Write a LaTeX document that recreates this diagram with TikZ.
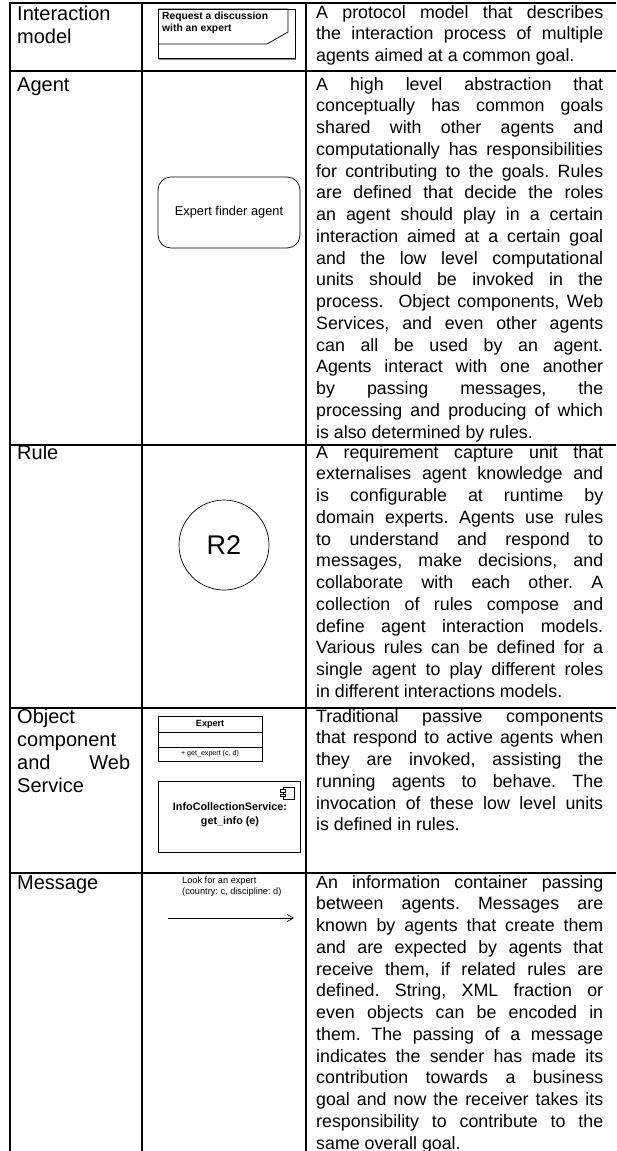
\documentclass[tikz,border=0pt]{standalone}
\usepackage{fontspec}
\setmainfont{Liberation Sans}
\usepackage{tikz}
\usetikzlibrary{arrows.meta}
\hyphenpenalty=10000
\exhyphenpenalty=10000
\tolerance=10000
\frenchspacing

\tikzset{
  rowline/.style={line width=1.8pt},
  rowlabel/.style={anchor=base west, inner sep=0pt, text width=113pt, align=justify,
    font=\fontsize{20}{23}\selectfont},
  desc/.style={anchor=base west, inner sep=0pt, text width=287pt, align=justify,
    font=\fontsize{17.8}{21.75}\selectfont},
  umlbox/.style={draw, line width=0.7pt, inner sep=0pt},
}

\begin{document}
\begin{tikzpicture}[x=1pt,y=-1pt]
\useasboundingbox (0,0) rectangle (616,1151);
\clip (0,0) rectangle (616,1151);

% table
\draw[rowline] (9,3) -- (616,3);
\foreach \y in {71,445,708,873}
  \draw[rowline] (10,\y) -- (616,\y);
\foreach \x in {10,142,306}
  \draw[rowline] (\x,3) -- (\x,1151);

% row 1: interaction model
\node[rowlabel] (lblinter) at (17,20) {Interaction\linebreak model};
\draw[line width=0.7pt] (158,9) rectangle (295,58);
\draw[line width=0.6pt, gray] (159,59.5) -- (296,59.5);
\draw[line width=0.7pt] (158,9) -- (288,9) -- (288,32) -- (267,44) -- (158,44);
\node[anchor=north west, inner sep=0pt, align=left,
  font=\bfseries\fontsize{10.3}{12}\selectfont] (intername) at (162,12)
  {Request a discussion\\with an expert};
\node[desc] (descinter) at (316,18) {A protocol model that describes\linebreak
  the interaction process of multiple\linebreak agents aimed at a common goal.};

% row 2: agent
\node[rowlabel] (lblagent) at (17,91) {Agent};
\node[umlbox, rounded corners=13pt, minimum width=142pt, minimum height=71pt,
  font=\fontsize{12.8}{15}\selectfont] (finder) at (229,212.5) {Expert finder agent};
\node[desc] (descagent) at (316,90) {A high level abstraction that\linebreak
  conceptually has common goals\linebreak shared with other agents and\linebreak
  computationally has responsibilities\linebreak for contributing to the goals. Rules\linebreak
  are defined that decide the roles\linebreak an agent should play in a certain\linebreak
  interaction aimed at a certain goal\linebreak and the low level computational\linebreak
  units should be invoked in the\linebreak process.\ \ Object components, Web\linebreak
  Services, and even other agents\linebreak can all be used by an agent.\linebreak
  Agents interact with one another\linebreak by passing messages, the\linebreak
  processing and producing of which\linebreak is also determined by rules.};

% row 3: rule
\node[rowlabel] (lblrule) at (17,459) {Rule};
\node[umlbox, circle, minimum size=90pt, font=\fontsize{27}{30}\selectfont] (ruletwo)
  at (224,545) {R2};
\node[desc] (descrule) at (316,458) {A requirement capture unit that\linebreak
  externalises agent knowledge and\linebreak is configurable at runtime by\linebreak
  domain experts. Agents use rules\linebreak to understand and respond to\linebreak
  messages, make decisions, and\linebreak collaborate with each other. A\linebreak
  collection of rules compose and\linebreak define agent interaction models.\linebreak
  Various rules can be defined for a\linebreak single agent to play different roles\linebreak
  in different interactions models.};

% row 4: object component and web service
\node[rowlabel] (lblobject) at (17,723) {Object\linebreak component\linebreak and Web\linebreak Service};
\node[umlbox, minimum width=104pt, minimum height=16pt,
  font=\bfseries\fontsize{9}{10}\selectfont] (clsname) at (210,724) {Expert};
\node[umlbox, minimum width=104pt, minimum height=15pt] (clsattr) at (210,739.5) {};
\node[umlbox, minimum width=104pt, minimum height=14pt,
  font=\fontsize{7.1}{8}\selectfont] (clsops) at (210,754) {+ get\_expert (c, d)};
\node[umlbox, minimum width=142pt, minimum height=71pt] (infosvc) at (229,816.5) {};
\draw[line width=0.6pt] (283,787) rectangle (294,799);
\draw[line width=0.6pt, fill=white] (280.5,789.5) rectangle (285.5,792);
\draw[line width=0.6pt, fill=white] (280.5,794) rectangle (285.5,796.5);
\node[align=center, inner sep=0pt, font=\bfseries\fontsize{10.8}{14}\selectfont]
  (svcname) at (230,815) {InfoCollectionService:\\get\_info (e)};
\node[desc] (descobject) at (316,722) {Traditional passive components\linebreak
  that respond to active agents when\linebreak they are invoked, assisting the\linebreak
  running agents to behave. The\linebreak invocation of these low level units\linebreak
  is defined in rules.};

% row 5: message
\node[rowlabel] (lblmessage) at (17,889) {Message};
\node[anchor=north west, inner sep=0pt, align=left,
  font=\fontsize{9.2}{11}\selectfont] (msgtext) at (182,877)
  {Look for an expert\\(country: c, discipline: d)};
\coordinate (msgtail) at (168,918);
\coordinate (msghead) at (294,918);
\draw[line width=0.7pt, -{Straight Barb[length=6pt,width=7pt]}] (msgtail) -- (msghead);
\node[desc] (descmessage) at (316,888) {An information container passing\linebreak
  between agents. Messages are\linebreak known by agents that create them\linebreak
  and are expected by agents that\linebreak receive them, if related rules are\linebreak
  defined. String, XML fraction or\linebreak even objects can be encoded in\linebreak
  them. The passing of a message\linebreak indicates the sender has made its\linebreak
  contribution towards a business\linebreak goal and now the receiver takes its\linebreak
  responsibility to contribute to the\linebreak same overall goal.};
\end{tikzpicture}
\end{document}
